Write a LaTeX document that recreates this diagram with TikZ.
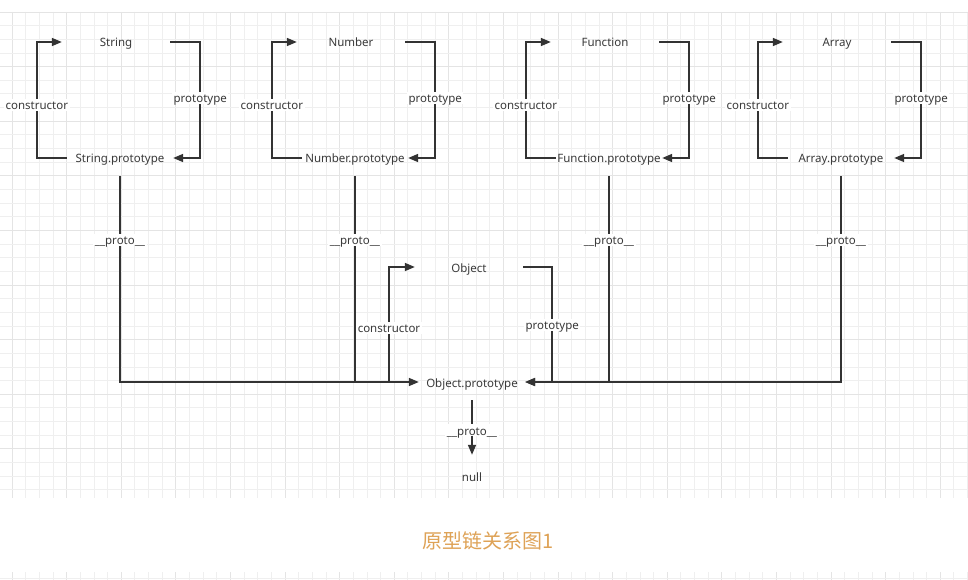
\documentclass[tikz,border=0pt]{standalone}
\usepackage{fontspec}
\setmainfont{Noto Sans}
\newfontfamily\cjk{Noto Sans CJK SC}
\usetikzlibrary{arrows.meta}
\definecolor{ink}{HTML}{333333}
\definecolor{txt}{HTML}{3A3A3A}
\definecolor{gridminor}{HTML}{EFEFEF}
\definecolor{gridmajor}{HTML}{E4E4E4}
\definecolor{captionc}{RGB}{222,162,86}
\begin{document}
\begin{tikzpicture}[x=1pt,y=-1pt,
  link/.style={draw=ink,line width=1.6pt},
  arr/.style={link,-{Triangle[length=10pt,width=8pt]}},
  tfont/.style={text=txt,font=\fontsize{11.5}{13}\selectfont,text height=10pt,text depth=0pt},
  tnode/.style={tfont,minimum width=108pt,minimum height=20pt,inner sep=0pt},
  pnode/.style={tfont,minimum width=106pt,minimum height=36pt,inner sep=0pt},
  lbl/.style={tfont,fill=white,inner xsep=1.5pt,inner ysep=1pt},
  gminor/.style={draw=gridminor,line width=0.8pt},
  gmajor/.style={draw=gridmajor,line width=0.8pt}]
\useasboundingbox (0,0) rectangle (968,580);
\fill[white] (0,0) rectangle (968,580);
% grid
\foreach \i in {0,...,70}{
  \pgfmathsetmacro{\gx}{12+\i*13.65}
  \pgfmathtruncatemacro{\m}{mod(\i,4)}
  \ifnum\m=0 \draw[gmajor] (\gx,12) -- (\gx,498); \draw[gmajor] (\gx,572) -- (\gx,580);
  \else \draw[gminor] (\gx,12) -- (\gx,498); \draw[gminor] (\gx,572) -- (\gx,580); \fi
}
\foreach \j in {0,...,35}{
  \pgfmathsetmacro{\gy}{12+\j*13.65}
  \pgfmathtruncatemacro{\m}{mod(\j,4)}
  \ifnum\m=0 \draw[gmajor] (0,\gy) -- (968,\gy);
  \else \draw[gminor] (0,\gy) -- (968,\gy); \fi
}
\draw[gminor] (0,578) -- (968,578);

% nodes
\node[tnode] (S) at (116,42) {String};
\node[pnode] (Sp) at (120,158) {String.prototype};
\node[tnode] (N) at (351,42) {Number};
\node[pnode] (Np) at (355,158) {Number.prototype};
\node[tnode] (F) at (605,42) {Function};
\node[pnode] (Fp) at (609,158) {Function.prototype};
\node[tnode] (A) at (837,42) {Array};
\node[pnode] (Ap) at (841,158) {Array.prototype};
\node[tnode] (O) at (469,267) {Object};
\node[pnode] (OP) at (472,382) {Object.prototype};
\node[pnode,minimum height=42pt] (nul) at (472,476) {null};
\coordinate (Ocon) at (389,382);

% constructor / prototype loops
\foreach \a/\b in {S/Sp,N/Np,F/Fp,A/Ap}{
  \draw[arr] (\b.west) -- ++(-30,0) |- (\a.west) node[pos=0.23,lbl] {constructor};
  \draw[arr] (\a.east) -- ++(30,0) |- (\b.east) node[pos=0.24,lbl] {prototype};
}
% __proto__ links
\draw[arr] (Sp.south) |- (OP.west) node[pos=0.155,lbl] {\_\_proto\_\_};
\draw[link] (Np.south) -- (Np.south |- OP.west) node[pos=0.31,lbl] {\_\_proto\_\_};
\draw[link] (Fp.south) -- (Fp.south |- OP.east) node[pos=0.31,lbl] {\_\_proto\_\_};
\draw[arr] (Ap.south) |- (OP.east) node[pos=0.155,lbl] {\_\_proto\_\_};
% Object loop
\draw[arr] (Ocon) |- (O.west) node[pos=0.235,lbl] {constructor};
\draw[arr] (O.east) -- ++(29,0) |- (OP.east) node[pos=0.25,lbl] {prototype};
% null
\draw[arr] (OP.south) -- (nul.north) node[pos=0.55,lbl] {\_\_proto\_\_};

\node[text=captionc,font=\cjk\fontsize{20}{24}\selectfont] (cap) at (488,541) {原型链关系图1};
\end{tikzpicture}
\end{document}
